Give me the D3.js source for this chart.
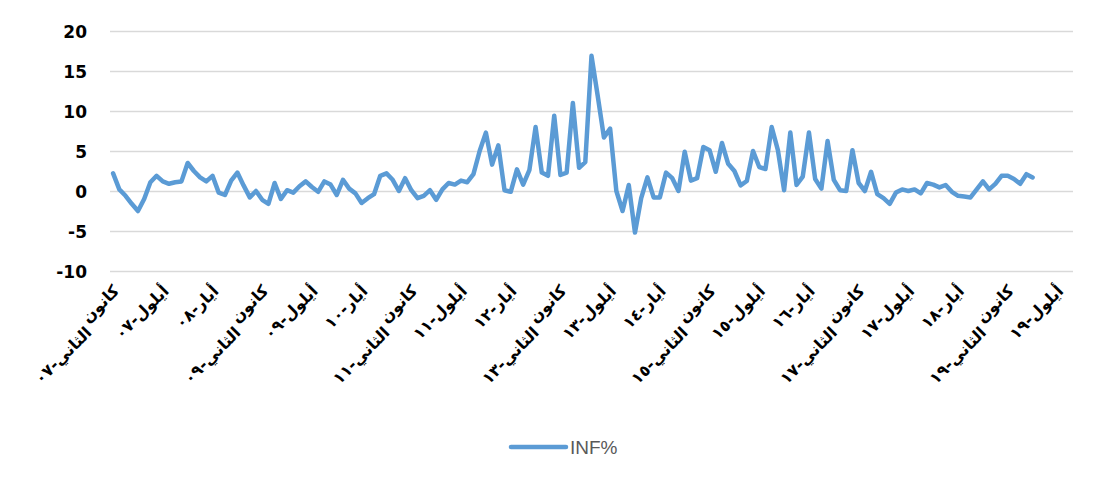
<!DOCTYPE html>
<html>
<head>
<meta charset="utf-8">
<script src="https://cdn.jsdelivr.net/npm/d3@7"></script>
<style>
  html, body { margin: 0; padding: 0; background: #fff; }
  svg { display: block; }
</style>
</head>
<body>
<svg id="chart" width="1109" height="485"></svg>
<script>
// ---- data ----
const seriesName = "INF%";
const monthNames = ["كانون الثاني","شباط","آذار","نيسان","أيار","حزيران","تموز","آب","أيلول","تشرين الأول","تشرين الثاني","كانون الأول"];
const yearLabels = ["٠٧","٠٨","٠٩","١٠","١١","١٢","١٣","١٤","١٥","١٦","١٧","١٨","١٩"];
const categoryCount = 155; // Jan 2007 .. Nov 2019
const xTickLabels = [
  "كانون الثاني-٠٧","أيلول-٠٧","أيار-٠٨","كانون الثاني-٠٩","أيلول-٠٩","أيار-١٠",
  "كانون الثاني-١١","أيلول-١١","أيار-١٢","كانون الثاني-١٣","أيلول-١٣","أيار-١٤",
  "كانون الثاني-١٥","أيلول-١٥","أيار-١٦","كانون الثاني-١٧","أيلول-١٧","أيار-١٨",
  "كانون الثاني-١٩","أيلول-١٩"
];
const yTicks = [-10, -5, 0, 5, 10, 15, 20];
const infValues = [
  2.2, 0.2, -0.6, -1.6, -2.5, -1.0, 1.1, 1.9, 1.2, 0.9, 1.1, 1.2, 3.5, 2.5, 1.7, 1.2, 1.9, -0.2, -0.5, 1.3,
  2.3, 0.7, -0.8, 0.0, -1.1, -1.6, 1.0, -1.0, 0.1, -0.2, 0.6, 1.2, 0.5, -0.1, 1.2, 0.8, -0.5, 1.4, 0.3, -0.3,
  -1.5, -0.9, -0.4, 1.9, 2.2, 1.4, 0.0, 1.6, 0.1, -0.9, -0.6, 0.1, -1.1, 0.2, 1.0, 0.8, 1.3,
  1.1, 2.1, 5.0, 7.3, 3.3, 5.7, 0.1, -0.1, 2.7, 0.8, 2.6, 8.0, 2.3, 1.9, 9.4, 2.0, 2.3, 11.0, 2.9, 3.6,
  16.9, 11.9, 6.7, 7.8, 0.0, -2.5, 0.75, -5.2, -0.9, 1.7, -0.8, -0.8, 2.3, 1.6, 0.0, 4.9, 1.3, 1.6, 5.5, 5.1,
  2.4, 6.0, 3.4, 2.5, 0.7, 1.25, 5.0, 3.0, 2.75, 8.0, 5.1, 0.1, 7.3, 0.75, 1.8, 7.3, 1.5, 0.3, 6.25, 1.4, 0.1,
  0.0, 5.1, 1.0, 0.0, 2.4, -0.4, -0.9, -1.6, -0.2, 0.2, 0.0, 0.2, -0.3, 1.0, 0.8, 0.45, 0.75, -0.1, -0.6, -0.7,
  -0.8, 0.2, 1.2, 0.2, 0.9, 1.9, 1.9, 1.5, 0.9, 2.1, 1.7
];

// categories built from month names and years
const categories = d3.range(categoryCount).map(i => monthNames[i % 12] + "-" + yearLabels[Math.floor(i / 12)]);

// ---- layout ----
const svg = d3.select("#chart");
const plot = { left: 110, right: 1073, top: 31, bottom: 271 };

const x = d3.scaleBand().domain(categories).range([plot.left, plot.right]).paddingInner(0).paddingOuter(0);
const y = d3.scaleLinear().domain([-10, 20]).range([plot.bottom, plot.top]);

// gridlines + y labels
const yAxis = d3.axisLeft(y).tickValues(yTicks).tickSize(-(plot.right - plot.left)).tickPadding(23).tickFormat(d => String(d));
const gy = svg.append("g").attr("transform", `translate(${plot.left},0)`).call(yAxis);
gy.select(".domain").remove();
gy.selectAll(".tick line").attr("stroke", "#D9D9D9").attr("stroke-width", 1.3);
gy.selectAll(".tick text")
  .attr("fill", "#000")
  .attr("font-family", "'DejaVu Sans', Verdana, sans-serif")
  .attr("font-weight", "bold")
  .attr("font-size", "17px")
  .attr("dy", "0.36em");

// x tick labels (every 8th category)
const tickIdx = d3.range(0, categoryCount, 8);
const xAxis = d3.axisBottom(x)
  .tickValues(tickIdx.map(i => categories[i]))
  .tickSize(0)
  .tickFormat((d, i) => xTickLabels[i]);
const gx = svg.append("g").attr("transform", `translate(0,${plot.bottom})`).call(xAxis);
gx.select(".domain").remove();
const lineGap = 10;
gx.selectAll(".tick text").each(function(d, i) {
  const label = xTickLabels[i];
  const t = d3.select(this)
    .text(null)
    .attr("fill", "#000")
    .attr("font-family", "'DejaVu Sans', sans-serif")
    .attr("font-weight", "bold")
    .attr("font-size", "16px")
    .attr("text-anchor", "end")
    .attr("y", 0).attr("dy", 0)
    .attr("transform", "translate(7,21) rotate(-45)");
  const sp = label.indexOf(" ");
  if (sp < 0) {
    t.append("tspan").attr("x", 0).attr("y", 0).text(label);
  } else {
    const first = t.append("tspan").attr("x", 0).attr("y", 0).text(label.slice(0, sp));
    const w1 = first.node().getComputedTextLength();
    t.append("tspan").attr("x", -w1 - 4).attr("y", lineGap).text(label.slice(sp + 1));
  }
});

// line
const line = d3.line()
  .x((d, i) => x(categories[i]) + x.bandwidth() / 2)
  .y(d => y(d));
svg.append("path")
  .datum(infValues)
  .attr("fill", "none")
  .attr("stroke", "#5B9BD5")
  .attr("stroke-width", 4.5)
  .attr("stroke-linejoin", "round")
  .attr("stroke-linecap", "round")
  .attr("d", line);

// legend
const lg = svg.append("g").attr("transform", "translate(511,447)");
lg.append("line").attr("x1", 0).attr("x2", 55).attr("y1", 0).attr("y2", 0)
  .attr("stroke", "#5B9BD5").attr("stroke-width", 4.5).attr("stroke-linecap", "round");
lg.append("text").attr("x", 59).attr("y", 0).attr("dy", "0.35em")
  .attr("fill", "#595959")
  .attr("font-family", "Arial, 'Liberation Sans', sans-serif")
  .attr("font-size", "19px")
  .text(seriesName);
</script>
</body>
</html>
